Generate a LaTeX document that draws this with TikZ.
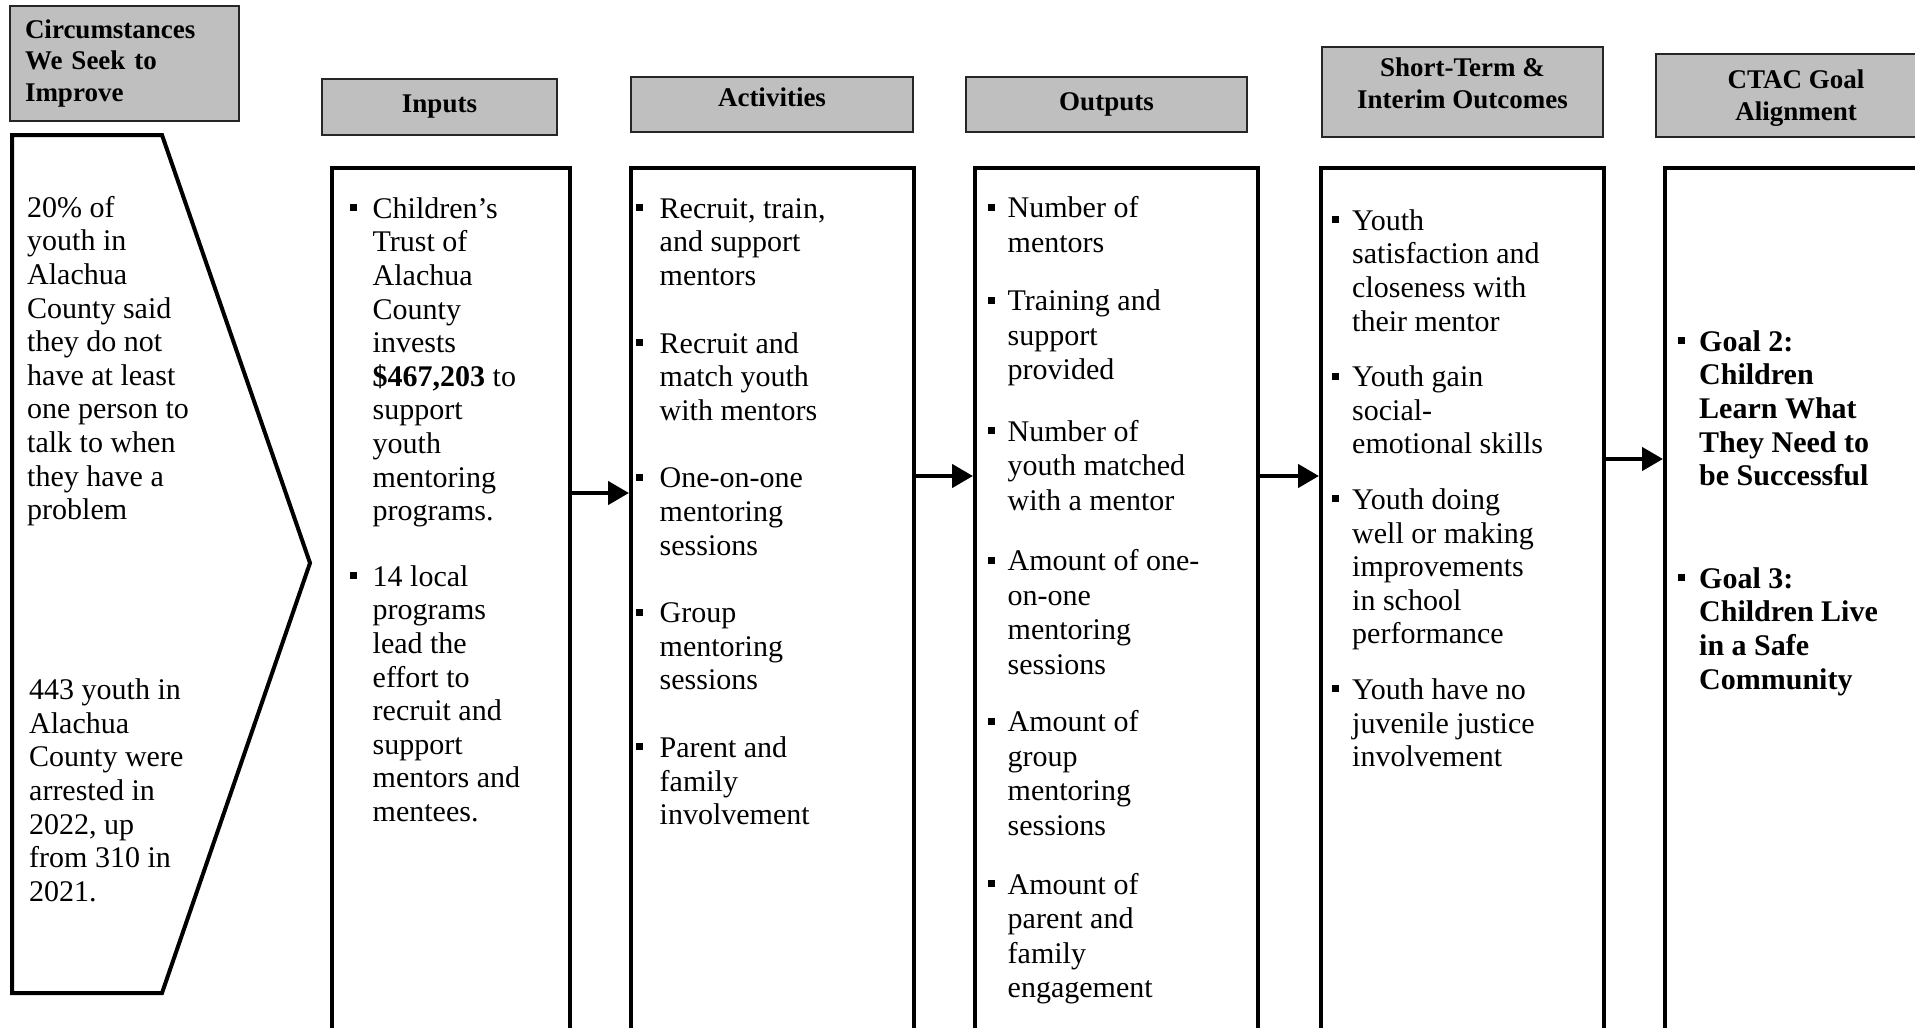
\documentclass[tikz,border=0pt]{standalone}
\usepackage{fontspec}
\setmainfont{Liberation Serif}
\usetikzlibrary{arrows.meta}
\newcommand\bodyfs{\fontsize{30}{33.6}\selectfont}
\newcommand\outfs{\fontsize{30}{34.5}\selectfont}
\newcommand\hdrfs{\fontsize{27}{31.8}\selectfont\bfseries}
\newcommand\bl[1]{\makebox[#1][l]{\rule[7pt]{7pt}{7pt}}}
\newcommand\shifted[2]{\raisebox{#1}[\height][\depth]{\begin{tabular}{@{}c@{}}#2\end{tabular}}}
\tikzset{
  hdr/.style={draw=black!85, line width=2pt, fill=black!25, anchor=north west, inner sep=0pt, font=\hdrfs, align=center},
  body/.style={draw=black, line width=4pt, anchor=north west, inner sep=0pt, minimum height=920pt},
  txt/.style={anchor=north west, inner sep=0pt, font=\bodyfs},
  arr/.style={line width=4.5pt, -{Triangle[length=21pt,width=23pt]}},
}
\begin{document}
\begin{tikzpicture}[x=1pt,y=-1pt]
\useasboundingbox (0,0) rectangle (1915,1028);
\fill[white] (0,0) rectangle (1915,1028);
\clip (0,0) rectangle (1915,1028);

% headers
\node[hdr, minimum width=229pt, minimum height=115pt, text width=199pt, align=left] (hc) at (9,5) {Circumstances\\We Seek to\\Improve};
\node[hdr, minimum width=235pt, minimum height=56pt] (hi) at (321,78) {Inputs};
\node[hdr, minimum width=282pt, minimum height=55pt] (ha) at (630,76) {\shifted{4pt}{Activities}};
\node[hdr, minimum width=281pt, minimum height=55pt] (ho) at (965,76) {Outputs};
\node[hdr, minimum width=281pt, minimum height=90pt] (hs) at (1321,46) {\shifted{6pt}{Short-Term \&\\Interim Outcomes}};
\node[hdr, minimum width=280pt, minimum height=83pt] (hg) at (1655,53) {\shifted{-3pt}{CTAC Goal\\Alignment}};

% chevron
\draw[line width=4pt, line join=miter] (12,135) -- (162,135) -- (310,563) -- (162,993) -- (12,993) -- cycle;
\node[txt] (c1) at (27,193.5) {\begin{tabular}{@{}l@{}}20\% of\\youth in\\Alachua\\County said\\they do not\\have at least\\one person to\\talk to when\\they have a\\problem\end{tabular}};
\node[txt] (c2) at (29,676) {\begin{tabular}{@{}l@{}}443 youth in\\Alachua\\County were\\arrested in\\2022, up\\from 310 in\\2021.\end{tabular}};

% bodies
\node[body, minimum width=238pt] (bi) at (330,166) {};
\node[body, minimum width=283pt] (ba) at (629,166) {};
\node[body, minimum width=283pt] (bo) at (973,166) {};
\node[body, minimum width=283pt] (bs) at (1319,166) {};
\node[body, minimum width=300pt] (bg) at (1663,166) {};

% body texts
\node[txt] (ti) at (350,194.5) {\begin{tabular}{@{}l@{}l@{}}
\bl{22.5pt} & Children’s\\ & Trust of\\ & Alachua\\ & County\\ & invests\\ & \textbf{\$467,203} to\\ & support\\ & youth\\ & mentoring\\ & programs.\\[32pt]
\bl{22.5pt} & 14 local\\ & programs\\ & lead the\\ & effort to\\ & recruit and\\ & support\\ & mentors and\\ & mentees.
\end{tabular}};

\node[txt] (ta) at (636,194.5) {\begin{tabular}{@{}l@{}l@{}}
\bl{23.5pt} & Recruit, train,\\ & and support\\ & mentors\\[34pt]
\bl{23.5pt} & Recruit and\\ & match youth\\ & with mentors\\[34pt]
\bl{23.5pt} & One-on-one\\ & mentoring\\ & sessions\\[34pt]
\bl{23.5pt} & Group\\ & mentoring\\ & sessions\\[34pt]
\bl{23.5pt} & Parent and\\ & family\\ & involvement
\end{tabular}};

\node[txt, font=\outfs] (to) at (987.5,193.5) {\begin{tabular}{@{}l@{}l@{}}
\bl{20pt} & Number of\\ & mentors\\[24pt]
\bl{20pt} & Training and\\ & support\\ & provided\\[27pt]
\bl{20pt} & Number of\\ & youth matched\\ & with a mentor\\[26pt]
\bl{20pt} & Amount of one-\\ & on-one\\ & mentoring\\ & sessions\\[23pt]
\bl{20pt} & Amount of\\ & group\\ & mentoring\\ & sessions\\[24.5pt]
\bl{20pt} & Amount of\\ & parent and\\ & family\\ & engagement
\end{tabular}};

\node[txt] (ts) at (1332,206.5) {\begin{tabular}{@{}l@{}l@{}}
\bl{20pt} & Youth\\ & satisfaction and\\ & closeness with\\ & their mentor\\[22pt]
\bl{20pt} & Youth gain\\ & social-\\ & emotional skills\\[22pt]
\bl{20pt} & Youth doing\\ & well or making\\ & improvements\\ & in school\\ & performance\\[22pt]
\bl{20pt} & Youth have no\\ & juvenile justice\\ & involvement
\end{tabular}};

\node[txt, font=\bodyfs\bfseries] (tg) at (1677.5,327.5) {\begin{tabular}{@{}l@{}l@{}}
\bl{21.5pt} & Goal 2:\\ & Children\\ & Learn What\\ & They Need to\\ & be Successful\\[69pt]
\bl{21.5pt} & Goal 3:\\ & Children Live\\ & in a Safe\\ & Community
\end{tabular}};

% arrows
\draw[arr] (bi.east |- 0,493) -- (ba.west |- 0,493);
\draw[arr] (ba.east |- 0,476) -- (bo.west |- 0,476);
\draw[arr] (bo.east |- 0,476) -- (bs.west |- 0,476);
\draw[arr] (bs.east |- 0,459) -- (bg.west |- 0,459);
\end{tikzpicture}
\end{document}
